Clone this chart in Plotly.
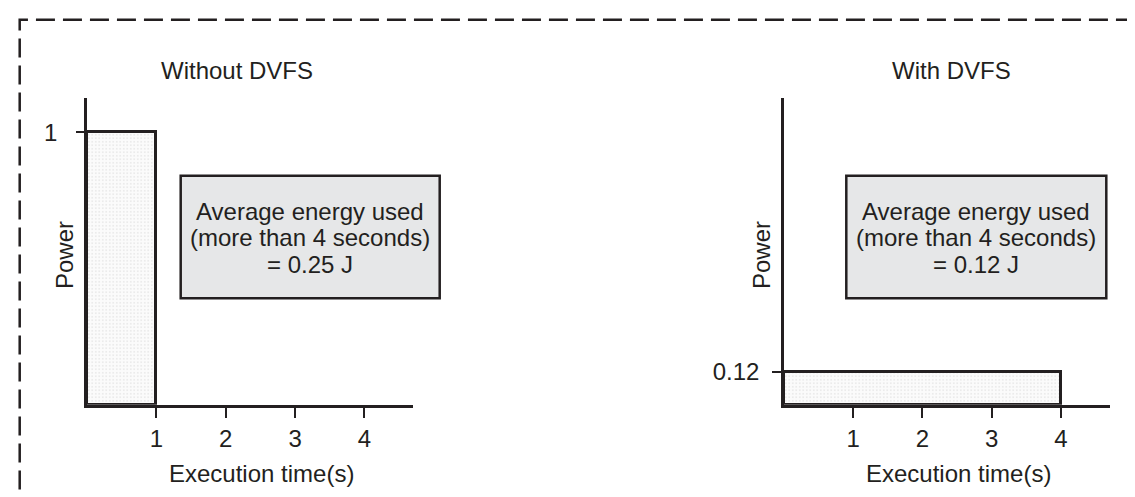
import plotly.graph_objects as go

W, H = 1135, 497

# ---- data ----
panel_titles = ["Without DVFS", "With DVFS"]
durations = [1, 4]            # execution time (s)
powers = [1, 0.12]            # power level
energy_labels = ["0.25 J", "0.12 J"]
x_ticks = [1, 2, 3, 4]
y_ticks = [[1], [0.12]]
y_ticktext = [["1"], ["0.12"]]
x_title = "Execution time(s)"
y_title = "Power"
box_lines = ["Average energy used", "(more than 4 seconds)"]

INK = "#231f20"
FONT = "Liberation Sans, Arial, Helvetica, sans-serif"
FS = 24


def px(x):
    return x / W


def py(y):
    return 1 - y / H


fig = go.Figure()

xaxes = ["x", "x2"]
yaxes = ["y", "y2"]
for i in range(2):
    fig.add_trace(go.Bar(
        x=[durations[i] / 2], y=[powers[i]], width=[durations[i]],
        xaxis=xaxes[i], yaxis=yaxes[i],
        marker=dict(
            color="#f6f6f6",
            line=dict(color=INK, width=3),
            pattern=dict(shape=".", fgcolor="#cfcfcf", bgcolor="#fbfbfb",
                         size=3.5, solidity=0.2),
        ),
        showlegend=False, hoverinfo="skip",
    ))

x_domains = [[px(79), px(405)], [px(776), px(1102)]]
x_ranges = [[0, 4.7], [0, 4.71]]
y_domain = [py(396.7), py(90)]
y_ticklen = [8, 9]
y_standoff = [14, 8]

axis_common = dict(showline=True, linecolor=INK, linewidth=2.5, showgrid=False,
                   zeroline=False, ticks="outside", tickcolor=INK, tickwidth=1.5,
                   tickfont=dict(family=FONT, size=FS, color=INK))

layout = dict(
    width=W, height=H, autosize=False,
    margin=dict(l=0, r=0, t=0, b=0),
    paper_bgcolor="white", plot_bgcolor="white",
    showlegend=False, bargap=0,
    font=dict(family=FONT, size=FS, color=INK),
)
for i in range(2):
    sx = "" if i == 0 else "2"
    layout["xaxis" + sx] = dict(axis_common, domain=x_domains[i], range=x_ranges[i],
                                tickvals=x_ticks, ticklen=11,
                                anchor="y" + sx, fixedrange=True)
    layout["yaxis" + sx] = dict(axis_common, domain=y_domain, range=[0, 1.126],
                                tickvals=y_ticks[i], ticktext=y_ticktext[i],
                                ticklen=y_ticklen[i], ticklabelstandoff=y_standoff[i],
                                anchor="x" + sx, fixedrange=True)
fig.update_layout(**layout)

shapes = []
# dashed outer frame
shapes.append(dict(type="rect", xref="paper", yref="paper",
                   x0=px(11.7), x1=1.05, y0=-0.05, y1=py(11.7),
                   line=dict(color=INK, width=2.5, dash="19px,8px"),
                   fillcolor="rgba(0,0,0,0)", layer="above"))
boxes_x = [(172.7, 431.7), (838.3, 1098.3)]
for (bx0, bx1) in boxes_x:
    shapes.append(dict(type="rect", xref="paper", yref="paper",
                       x0=px(bx0), x1=px(bx1), y0=py(290.3), y1=py(167.8),
                       line=dict(color=INK, width=2.5), fillcolor="#e6e7e8",
                       layer="above"))
fig.update_layout(shapes=shapes)

ann = []
title_x = [228.5, 943.5]
ytitle_x = [56, 753]
xtitle_x = [253, 950]
for i in range(2):
    ann.append(dict(text=panel_titles[i], x=px(title_x[i]), y=py(62),
                    xref="paper", yref="paper", showarrow=False,
                    xanchor="center", yanchor="middle"))
    ann.append(dict(text=y_title, x=px(ytitle_x[i]), y=py(247), textangle=-90,
                    xref="paper", yref="paper", showarrow=False,
                    xanchor="center", yanchor="middle"))
    ann.append(dict(text=x_title, x=px(xtitle_x[i]), y=py(465),
                    xref="paper", yref="paper", showarrow=False,
                    xanchor="center", yanchor="middle"))
    cx = (boxes_x[i][0] + boxes_x[i][1]) / 2
    lines = box_lines + ["= " + energy_labels[i]]
    for j, (t, yy) in enumerate(zip(lines, [203, 229.5, 256])):
        ann.append(dict(text=t, x=px(cx), y=py(yy),
                        xref="paper", yref="paper", showarrow=False,
                        xanchor="center", yanchor="middle"))
fig.update_layout(annotations=ann)

fig.write_html("out.html")
